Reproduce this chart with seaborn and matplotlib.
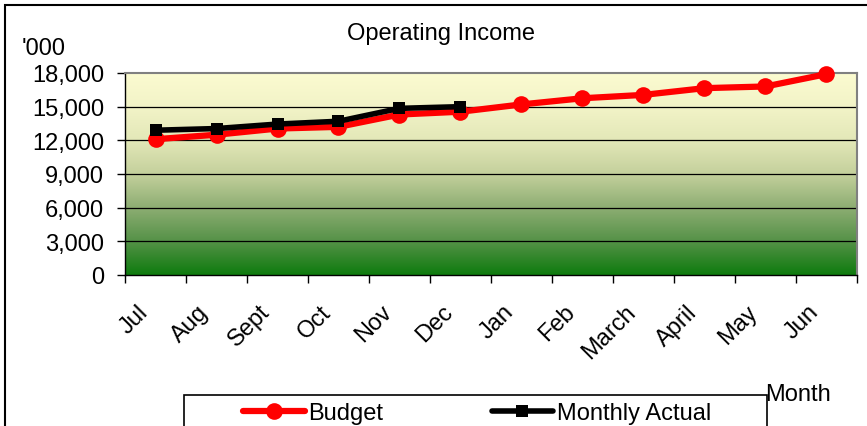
import matplotlib

matplotlib.use("Agg")
import matplotlib.pyplot as plt
import matplotlib.patches as mpatches
import numpy as np
import pandas as pd
import seaborn as sns
from matplotlib.colors import LinearSegmentedColormap
from matplotlib.ticker import FixedLocator, FuncFormatter
from matplotlib.transforms import ScaledTranslation

months = ["Jul", "Aug", "Sept", "Oct", "Nov", "Dec",
          "Jan", "Feb", "March", "April", "May", "Jun"]
budget = [12100, 12500, 13050, 13200, 14300, 14550,
          15200, 15750, 16050, 16650, 16800, 17900]
actual_months = months[:6]
actual = [12900, 13050, 13450, 13700, 14850, 15000]
y_ticks = [0, 3000, 6000, 9000, 12000, 15000, 18000]

sns.set_theme(style="white")
plt.rcParams["font.family"] = ["Liberation Sans", "DejaVu Sans"]
plt.rcParams.update({"text.color": "black", "axes.labelcolor": "black",
                     "xtick.color": "black", "ytick.color": "black"})
FS = 17

budget_df = pd.DataFrame({"Month": months, "Value": budget})
actual_df = pd.DataFrame({"Month": actual_months, "Value": actual})

fig = plt.figure(figsize=(8.67, 4.27), dpi=100)
ax = fig.add_axes([125 / 867, 1 - 276 / 427, 732 / 867, 202 / 427])

# gradient fill of the plot area
grad_cmap = LinearSegmentedColormap.from_list(
    "bg",
    [(0.0, "#0E7B0E"), (0.17, "#569248"), (0.33, "#8CAD72"),
     (0.5, "#C4D09C"), (0.67, "#E3E8B8"), (0.83, "#F2F3C7"), (1.0, "#FBFBD0")],
)
ax.imshow(np.linspace(1, 0, 256).reshape(-1, 1), cmap=grad_cmap, aspect="auto",
          extent=[0, 1, 0, 1], transform=ax.transAxes, zorder=0)

sns.lineplot(data=budget_df, x="Month", y="Value", sort=False, ax=ax,
             color="#FF0000", linewidth=4.5, marker="o", markersize=12,
             markeredgewidth=0, label="Budget", zorder=3, clip_on=False)
sns.lineplot(data=actual_df, x="Month", y="Value", sort=False, ax=ax,
             color="#000000", linewidth=4, marker="s", markersize=8.5,
             markeredgewidth=0, label="Monthly Actual", zorder=4, clip_on=False)

ax.set_xlim(-0.5, len(months) - 0.5)
ax.set_ylim(0, 18000)
ax.yaxis.set_major_locator(FixedLocator(y_ticks))
ax.yaxis.set_major_formatter(FuncFormatter(lambda v, p: f"{int(v):,}"))
ax.tick_params(axis="y", direction="out", length=6, width=1, color="black",
               labelsize=FS, pad=9, left=True)
for v in y_ticks[1:-1]:
    ax.axhline(v, color="black", linewidth=0.9, zorder=1)

ax.set_xticks(range(len(months)))
ax.set_xticklabels(months)
ax.set_xticks(np.arange(-0.5, len(months), 1), minor=True)
ax.tick_params(axis="x", which="major", length=0, labelsize=FS, pad=24)
ax.tick_params(axis="x", which="minor", direction="out", length=6, width=1,
               color="black", bottom=True)
shift = ScaledTranslation(-8 / 72, 0, fig.dpi_scale_trans)
for lab in ax.get_xticklabels():
    lab.set_rotation(45)
    lab.set_rotation_mode("anchor")
    lab.set_ha("right")
    lab.set_va("center")
    lab.set_transform(lab.get_transform() + shift)

for side in ["top", "right"]:
    ax.spines[side].set_color("#808080")
    ax.spines[side].set_linewidth(1.5)
for side in ["left", "bottom"]:
    ax.spines[side].set_color("black")
    ax.spines[side].set_linewidth(1)

ax.set_ylabel("'000", rotation=0, fontsize=FS, ha="left", va="center")
ax.yaxis.set_label_coords(-0.141, 1.124)
ax.set_xlabel("Month", fontsize=FS, ha="left", va="center")
ax.xaxis.set_label_coords(0.874, -0.589)

fig.text(441 / 867, 1 - 34 / 427, "Operating Income", fontsize=FS,
         ha="center", va="center")

handles, labels = ax.get_legend_handles_labels()
ax.get_legend().remove()
fig.legend(handles, labels, loc="center", bbox_to_anchor=(477 / 867, 0.03),
           ncol=2, frameon=False, fontsize=FS, handlelength=2.6,
           handletextpad=0.15, columnspacing=4.6, borderpad=0)
fig.patches.append(mpatches.Rectangle(
    (184 / 867, -0.05), 583 / 867, 0.05 + 1 - 396 / 427,
    transform=fig.transFigure, fill=False, edgecolor="black", linewidth=1.2))
fig.patches.append(mpatches.Rectangle(
    (5 / 867, -0.1), 1.2, 0.1 + 1 - 6 / 427,
    transform=fig.transFigure, fill=False, edgecolor="black", linewidth=1.5))

fig.savefig("out.png", dpi=100, facecolor="white")
